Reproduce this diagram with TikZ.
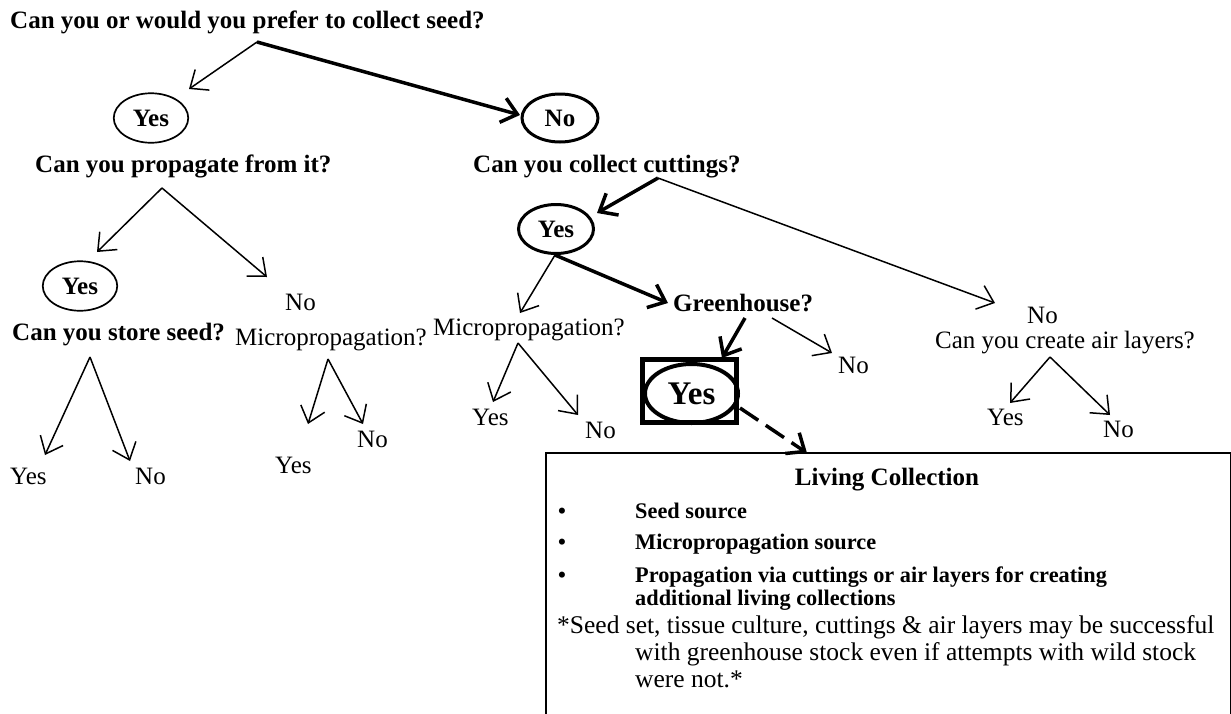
\documentclass[tikz,border=0pt]{standalone}
\usepackage{fontspec}
\setmainfont{Liberation Serif}
\usetikzlibrary{arrows.meta,shapes.geometric}

\begin{document}
\begin{tikzpicture}[x=1pt,y=-1pt,
  lbl/.style={inner sep=0pt, anchor=base west, font=\fontsize{25}{30}\selectfont},
  qb/.style={lbl, font=\fontsize{25}{30}\selectfont\bfseries},
  oval/.style={ellipse, draw, line width=1.7pt, inner sep=0pt,
    minimum width=74.5pt, minimum height=49.5pt,
    font=\fontsize{25}{30}\selectfont\bfseries},
  boldoval/.style={oval, line width=3pt, minimum width=76pt, minimum height=48pt},
  barb/.style={-{Straight Barb[length=15pt,width=25pt]}},
  thinarrow/.style={barb, line width=1.5pt},
  thickarrow/.style={barb, line width=3.5pt},
  bullettext/.style={inner sep=0pt, anchor=base west, font=\fontsize{22.3}{26}\selectfont\bfseries},
  notetext/.style={inner sep=0pt, anchor=base west, font=\fontsize{25.5}{28}\selectfont},
]
\useasboundingbox (0,0) rectangle (1231,713);
\clip (0,0) rectangle (1231,713);

% ---- questions and answers ----
\node[qb] (q1) at (10,28) {Can you or would you prefer to collect seed?};
\node[oval] (y1) at (151,118) {Yes};
\node[boldoval] (n1) at (560,118) {No};
\node[qb] (q2) at (35,172) {Can you propagate from it?};
\node[qb] (q3) at (473,172) {Can you collect cuttings?};
\node[boldoval, minimum width=75pt, minimum height=49pt] (y2) at (556,229) {Yes};

\node[oval] (y4) at (80,286) {Yes};
\node[lbl] (n2) at (285,310) {No};
\node[qb] (q4) at (12,340) {Can you store seed?};
\node[lbl] (m1) at (235,345) {Micropropagation?};
\node[lbl] (m2) at (433,335) {Micropropagation?};
\node[qb] (gh) at (673,311) {Greenhouse?};
\node[lbl] (n3) at (1027,323) {No};
\node[lbl] (q5) at (935,348) {Can you create air layers?};
\node[lbl] (n4) at (838,373) {No};

\node[lbl] (y5) at (472,425) {Yes};
\node[lbl] (n5) at (585,438) {No};
\node[lbl] (y6) at (987,425) {Yes};
\node[lbl] (n6) at (1103,437) {No};
\node[lbl] (y7) at (10,484) {Yes};
\node[lbl] (n7) at (135,484) {No};
\node[lbl] (n8) at (357,447) {No};
\node[lbl] (y8) at (275,473) {Yes};

% ---- the greenhouse answer, boxed ----
\node[draw, line width=5pt, minimum width=94pt, minimum height=63pt, inner sep=0pt]
  (y3box) at (689.5,391) {};
\node[ellipse, draw, line width=4pt, minimum width=93pt, minimum height=59pt, inner sep=0pt,
  font=\fontsize{33}{38}\selectfont\bfseries] (y3) at (691.5,393.5) {Yes};

% ---- living collection panel ----
\node[draw, line width=1.8pt, anchor=north west, minimum width=685pt, minimum height=300pt,
  inner sep=0pt] (lc) at (545,452) {};
\node[inner sep=0pt, anchor=base, font=\fontsize{25}{30}\selectfont\bfseries] (lct) at (887,485) {Living Collection};
\node[bullettext] (b1d) at (558,518) {•};
\node[bullettext] (b1) at (635,518) {Seed source};
\node[bullettext] (b2d) at (558,549) {•};
\node[bullettext] (b2) at (635,549) {Micropropagation source};
\node[bullettext] (b3d) at (558,582) {•};
\node[bullettext] (b3) at (635,582) {Propagation via cuttings or air layers for creating};
\node[bullettext] (b3b) at (635,605) {additional living collections};
\node[notetext] (f1) at (557,633) {*Seed set, tissue culture, cuttings \& air layers may be successful};
\node[notetext] (f2) at (635,660) {with greenhouse stock even if attempts with wild stock};
\node[notetext] (f3) at (635,687) {were not.*};

% ---- branch points and arrow ends ----
\coordinate (q1s) at (257,42);
\coordinate (y1e) at (189,89);
\coordinate (n1e) at (520,115);
\coordinate (q2s) at (162,188);
\coordinate (q2l) at (97,252);
\coordinate (q2r) at (267,277);
\coordinate (q4s) at (90,357);
\coordinate (q4l) at (45,455);
\coordinate (q4r) at (130,461);
\coordinate (m1s) at (328,359);
\coordinate (m1l) at (308,424);
\coordinate (m1r) at (363,424);
\coordinate (q3s) at (658,178);
\coordinate (y2e) at (597,213);
\coordinate (n3e) at (995,303);
\coordinate (y2s) at (555,255);
\coordinate (m2e) at (520,313);
\coordinate (ghe) at (668,303);
\coordinate (m2s) at (518,343);
\coordinate (m2l) at (493,402);
\coordinate (m2r) at (578,415);
\coordinate (ghs) at (745,318);
\coordinate (ghs2) at (772,318);
\coordinate (y3e) at (722,358);
\coordinate (n4e) at (832,353);
\coordinate (q5s) at (1050,357);
\coordinate (q5l) at (1010,403);
\coordinate (q5r) at (1110,415);
\coordinate (y3s) at (740,408);
\coordinate (lce) at (807,453);

% ---- connectors ----
\draw[thinarrow] (q1s) -- (y1e);
\draw[thickarrow] (q1s) -- (n1e);
\draw[thinarrow] (q2s) -- (q2l);
\draw[thinarrow] (q2s) -- (q2r);
\draw[thinarrow] (q4s) -- (q4l);
\draw[thinarrow] (q4s) -- (q4r);
\draw[thinarrow] (m1s) -- (m1l);
\draw[thinarrow] (m1s) -- (m1r);
\draw[thickarrow] (q3s) -- (y2e);
\draw[thinarrow] (q3s) -- (n3e);
\draw[thinarrow] (y2s) -- (m2e);
\draw[thickarrow] (y2s) -- (ghe);
\draw[thinarrow] (m2s) -- (m2l);
\draw[thinarrow] (m2s) -- (m2r);
\draw[thickarrow] (ghs) -- (y3e);
\draw[thinarrow] (ghs2) -- (n4e);
\draw[thinarrow] (q5s) -- (q5l);
\draw[thinarrow] (q5s) -- (q5r);
\draw[thickarrow, dash pattern=on 22pt off 9pt] (y3s) -- (lce);
\end{tikzpicture}
\end{document}
